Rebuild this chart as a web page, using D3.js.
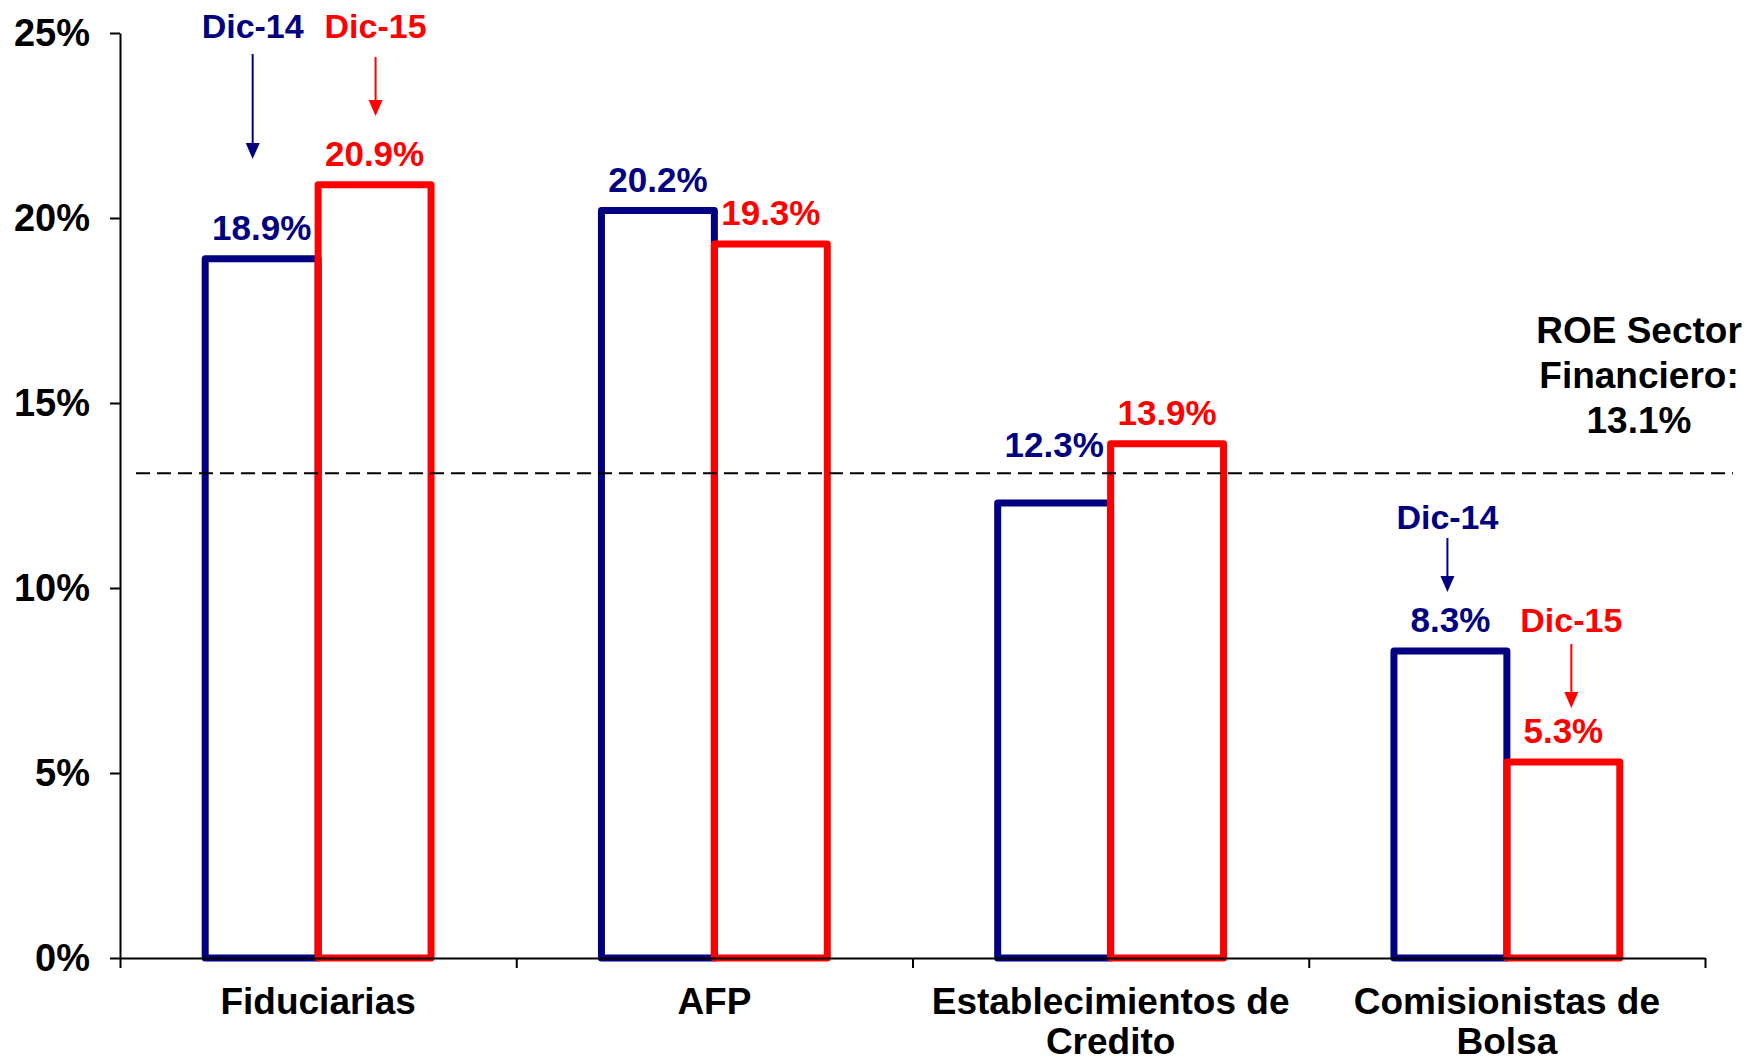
<!DOCTYPE html>
<html>
<head>
<meta charset="utf-8">
<script src="https://cdn.jsdelivr.net/npm/d3@7"></script>
<style>
  body { margin: 0; background: #fff; }
  text { font-family: "Liberation Sans", Arial, sans-serif; font-weight: bold; }
</style>
</head>
<body>
<svg id="chart" width="1747" height="1061"></svg>
<script>
// data
var categories = ["Fiduciarias", "AFP", "Establecimientos de|Credito", "Comisionistas de|Bolsa"];
var series = ["Dic-14", "Dic-15"];
var dic14 = [18.9, 20.2, 12.3, 8.3];
var dic15 = [20.9, 19.3, 13.9, 5.3];
var yTicks = [0, 5, 10, 15, 20, 25];
var roeSector = 13.1;
var roeLabel = ["ROE Sector", "Financiero:", "13.1%"];

var colors = {"Dic-14": "#000080", "Dic-15": "#ff0000"};

var svg = d3.select("#chart");

var y = d3.scaleLinear()
    .domain([0, 25])
    .range([958, 33]);

var x0 = d3.scaleBand()
    .domain(categories)
    .range([120, 1705])
    .paddingInner(0.43)
    .paddingOuter(0.215);

var x1 = d3.scaleBand()
    .domain(series)
    .range([0, x0.bandwidth()]);

// tick positions between categories
var xEdges = d3.scaleLinear()
    .domain([0, categories.length])
    .range([120, 1705]);

var rows = categories.map(function(c, i) {
    return {cat: c, values: [{s: "Dic-14", v: dic14[i]}, {s: "Dic-15", v: dic15[i]}]};
});

// bars (outlined)
var groups = svg.selectAll(".grp")
    .data(rows)
    .enter().append("g")
    .attr("transform", function(d) { return "translate(" + x0(d.cat) + ",0)"; });

groups.selectAll("rect")
    .data(function(d) { return d.values; })
    .enter().append("rect")
    .attr("x", function(d) { return x1(d.s); })
    .attr("y", function(d) { return y(d.v); })
    .attr("width", x1.bandwidth())
    .attr("height", function(d) { return y(0) - y(d.v); })
    .attr("fill", "none")
    .attr("stroke", function(d) { return colors[d.s]; })
    .attr("stroke-width", 7)
    .attr("stroke-linejoin", "round");

// value labels
groups.selectAll(".val")
    .data(function(d) { return d.values.map(function(v) { v.cat = d.cat; return v; }); })
    .enter().append("text")
    .attr("x", function(d) { return x1(d.s) + x1.bandwidth() / 2; })
    .attr("y", function(d) {
        // label of the shorter blue bar next to a taller red one is lifted
        if (d.cat === categories[2] && d.s === "Dic-14") return y(roeSector) - 16;
        return y(d.v) - 19;
    })
    .attr("text-anchor", "middle")
    .attr("font-size", 35)
    .attr("fill", function(d) { return colors[d.s]; })
    .text(function(d) { return d.v.toFixed(1) + "%"; });

// reference line
svg.append("line")
    .attr("x1", 136)
    .attr("x2", 1733)
    .attr("y1", y(roeSector))
    .attr("y2", y(roeSector))
    .attr("stroke", "#000")
    .attr("stroke-width", 2)
    .attr("stroke-dasharray", "14,7");

svg.append("text")
    .attr("text-anchor", "middle")
    .attr("font-size", 37)
    .selectAll("tspan")
    .data(roeLabel)
    .enter().append("tspan")
    .attr("x", 1639)
    .attr("y", function(d, i) { return 343 + i * 45; })
    .text(function(d) { return d; });

// y axis
var yAxis = svg.append("g")
    .attr("transform", "translate(120,0)")
    .call(d3.axisLeft(y).tickValues(yTicks).tickSize(10).tickSizeOuter(0).tickPadding(20)
        .tickFormat(function(d) { return d + "%"; }));
yAxis.selectAll("path, line").attr("stroke", "#000").attr("stroke-width", 2);
yAxis.selectAll("text").attr("font-size", 38).attr("fill", "#000")
    .attr("font-family", "Liberation Sans, Arial, sans-serif").attr("font-weight", "bold");

// x axis
var xAxis = svg.append("g")
    .attr("transform", "translate(0," + y(0) + ")")
    .call(d3.axisBottom(xEdges).ticks(categories.length).tickSize(10).tickSizeOuter(0).tickFormat(""));
xAxis.selectAll("path, line").attr("stroke", "#000").attr("stroke-width", 2);

// category labels
svg.selectAll(".cat")
    .data(categories)
    .enter().append("text")
    .attr("text-anchor", "middle")
    .attr("font-size", 37)
    .attr("fill", "#000")
    .each(function(c) {
        var lines = c.split("|");
        d3.select(this).selectAll("tspan")
            .data(lines)
            .enter().append("tspan")
            .attr("x", x0(c) + x0.bandwidth() / 2)
            .attr("y", function(d, i) { return 1014 + i * 40; })
            .text(function(d) { return d; });
    });

// Dic-14 / Dic-15 annotations with arrows
function annotate(cat, s, dx, textY, ay1, ay2) {
    var cx = x0(cat) + x1(s) + x1.bandwidth() / 2 + dx;
    var col = colors[s];
    svg.append("text")
        .attr("x", cx)
        .attr("y", textY)
        .attr("text-anchor", "middle")
        .attr("font-size", 34)
        .attr("fill", col)
        .text(s);
    svg.append("line")
        .attr("x1", cx).attr("x2", cx)
        .attr("y1", ay1).attr("y2", ay2 - 14)
        .attr("stroke", col)
        .attr("stroke-width", 2);
    svg.append("path")
        .attr("d", "M" + (cx - 7) + "," + (ay2 - 16) + "L" + (cx + 7) + "," + (ay2 - 16) + "L" + cx + "," + ay2 + "Z")
        .attr("fill", col);
}

annotate(categories[0], "Dic-14", -9, 38, 54, 159);
annotate(categories[0], "Dic-15", 1, 38, 57, 116);
annotate(categories[3], "Dic-14", -3, 529, 538, 592);
annotate(categories[3], "Dic-15", 8, 632, 644, 708);
</script>
</body>
</html>
